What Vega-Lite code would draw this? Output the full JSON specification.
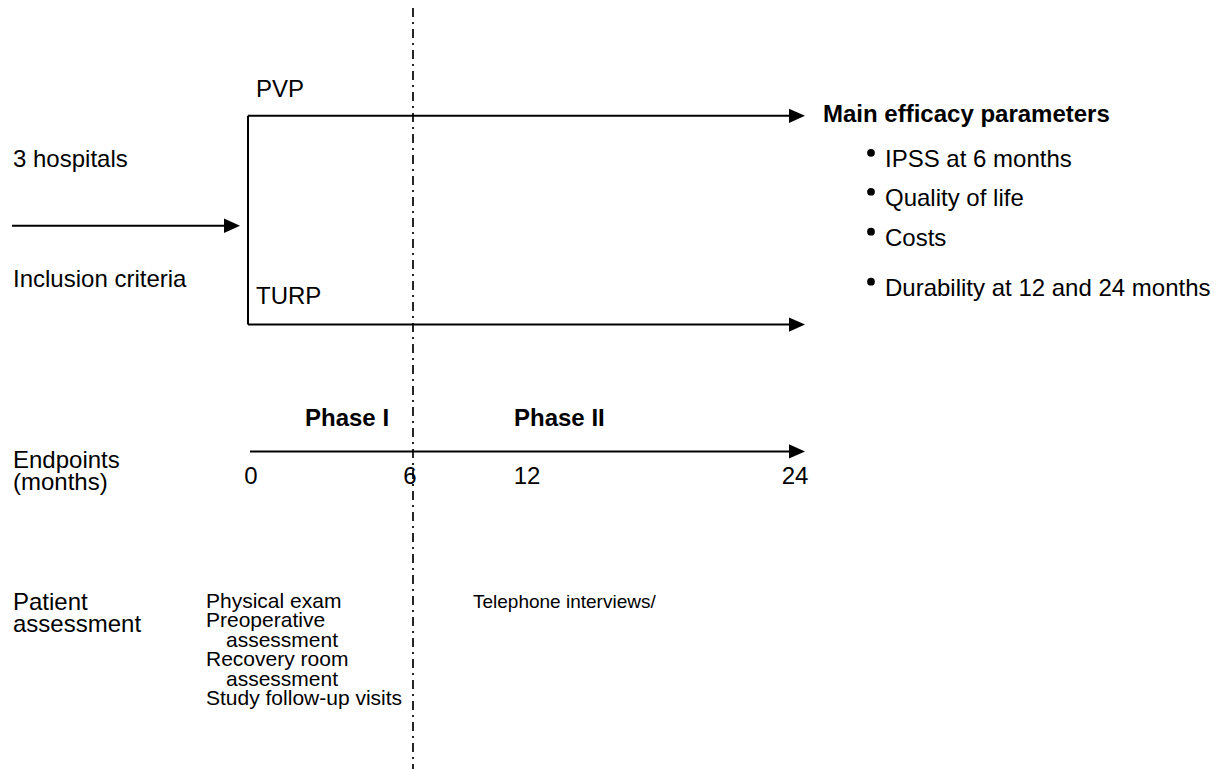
{
  "$schema": "https://vega.github.io/schema/vega-lite/v6.json",
  "width": 1218,
  "height": 770,
  "padding": 0,
  "autosize": {"type": "fit", "contains": "padding"},
  "background": "white",
  "config": {"view": {"stroke": null}, "text": {"font": "Liberation Sans", "color": "black"}},
  "datasets": {
    "segs": [
      {"x": 12, "x2": 228, "y": 226, "y2": 226},
      {"x": 248, "x2": 248, "y": 116, "y2": 325},
      {"x": 248, "x2": 792, "y": 116, "y2": 116},
      {"x": 248, "x2": 792, "y": 325, "y2": 325},
      {"x": 250, "x2": 792, "y": 452, "y2": 452}
    ],
    "divider": [{"x": 413, "y": 8, "y2": 770}],
    "arrows": [
      {"x": 240, "y": 226},
      {"x": 805, "y": 116},
      {"x": 805, "y": 325},
      {"x": 805, "y": 452}
    ],
    "bullets": [
      {"x": 871, "y": 153},
      {"x": 871, "y": 192},
      {"x": 871, "y": 232},
      {"x": 871, "y": 282}
    ],
    "labels": [
      {"text": "PVP", "x": 256, "y": 90, "kind": "normal"},
      {"text": "3 hospitals", "x": 13, "y": 160, "kind": "normal"},
      {"text": "Inclusion criteria", "x": 13, "y": 280, "kind": "normal"},
      {"text": "TURP", "x": 256, "y": 297, "kind": "normal"},
      {"text": "IPSS at 6 months", "x": 885, "y": 160, "kind": "normal"},
      {"text": "Quality of life", "x": 885, "y": 199, "kind": "normal"},
      {"text": "Costs", "x": 885, "y": 239, "kind": "normal"},
      {"text": "Durability at 12 and 24 months", "x": 885, "y": 289, "kind": "normal"},
      {"text": "Main efficacy parameters", "x": 823, "y": 115, "kind": "bold"},
      {"text": "Phase I", "x": 305, "y": 420, "kind": "bold"},
      {"text": "Phase II", "x": 514, "y": 420, "kind": "bold"},
      {"text": "0", "x": 251, "y": 478, "kind": "center"},
      {"text": "6", "x": 410, "y": 478, "kind": "center"},
      {"text": "12", "x": 527, "y": 478, "kind": "center"},
      {"text": "24", "x": 795, "y": 478, "kind": "center"},
      {"text": "Physical exam", "x": 206, "y": 603, "kind": "small"},
      {"text": "Preoperative", "x": 206, "y": 622, "kind": "small"},
      {"text": "assessment", "x": 226, "y": 642, "kind": "small"},
      {"text": "Recovery room", "x": 206, "y": 661, "kind": "small"},
      {"text": "assessment", "x": 226, "y": 681, "kind": "small"},
      {"text": "Study follow-up visits", "x": 206, "y": 700, "kind": "small"},
      {"text": "Telephone interviews/", "x": 473, "y": 603, "kind": "tel"}
    ],
    "blocks": [
      {"text": "Endpoints\n(months)", "x": 13, "y": 469},
      {"text": "Patient\nassessment", "x": 13, "y": 611}
    ]
  },
  "layer": [
    {
      "data": {"name": "segs"},
      "mark": {"type": "rule", "color": "black", "strokeWidth": 2},
      "encoding": {
        "x": {"field": "x", "type": "quantitative", "scale": {"domain": [0, 1218], "nice": false, "zero": false}, "axis": null},
        "x2": {"field": "x2"},
        "y": {"field": "y", "type": "quantitative", "scale": {"domain": [0, 770], "nice": false, "zero": false, "reverse": true}, "axis": null},
        "y2": {"field": "y2"}
      }
    },
    {
      "data": {"name": "divider"},
      "mark": {"type": "rule", "color": "black", "strokeWidth": 1.7, "strokeDash": [9, 5, 2, 5]},
      "encoding": {
        "x": {"field": "x", "type": "quantitative", "scale": {"domain": [0, 1218], "nice": false, "zero": false}, "axis": null},
        "y": {"field": "y", "type": "quantitative", "scale": {"domain": [0, 770], "nice": false, "zero": false, "reverse": true}, "axis": null},
        "y2": {"field": "y2"}
      }
    },
    {
      "data": {"name": "arrows"},
      "mark": {"type": "point", "shape": "M -2 -0.9 L 0 0 L -2 0.9 Z", "filled": true, "color": "black", "opacity": 1, "size": 256, "strokeWidth": 0},
      "encoding": {
        "x": {"field": "x", "type": "quantitative", "scale": {"domain": [0, 1218], "nice": false, "zero": false}, "axis": null},
        "y": {"field": "y", "type": "quantitative", "scale": {"domain": [0, 770], "nice": false, "zero": false, "reverse": true}, "axis": null}
      }
    },
    {
      "data": {"name": "bullets"},
      "mark": {"type": "circle", "color": "black", "opacity": 1, "size": 60},
      "encoding": {
        "x": {"field": "x", "type": "quantitative", "scale": {"domain": [0, 1218], "nice": false, "zero": false}, "axis": null},
        "y": {"field": "y", "type": "quantitative", "scale": {"domain": [0, 770], "nice": false, "zero": false, "reverse": true}, "axis": null}
      }
    },
    {
      "data": {"name": "labels"},
      "transform": [{"filter": "datum.kind === 'normal'"}],
      "mark": {"type": "text", "align": "left", "baseline": "middle", "fontSize": 24},
      "encoding": {
        "x": {"field": "x", "type": "quantitative", "scale": {"domain": [0, 1218], "nice": false, "zero": false}, "axis": null},
        "y": {"field": "y", "type": "quantitative", "scale": {"domain": [0, 770], "nice": false, "zero": false, "reverse": true}, "axis": null},
        "text": {"field": "text"}
      }
    },
    {
      "data": {"name": "labels"},
      "transform": [{"filter": "datum.kind === 'bold'"}],
      "mark": {"type": "text", "align": "left", "baseline": "middle", "fontSize": 24, "fontWeight": "bold"},
      "encoding": {
        "x": {"field": "x", "type": "quantitative", "scale": {"domain": [0, 1218], "nice": false, "zero": false}, "axis": null},
        "y": {"field": "y", "type": "quantitative", "scale": {"domain": [0, 770], "nice": false, "zero": false, "reverse": true}, "axis": null},
        "text": {"field": "text"}
      }
    },
    {
      "data": {"name": "labels"},
      "transform": [{"filter": "datum.kind === 'center'"}],
      "mark": {"type": "text", "align": "center", "baseline": "middle", "fontSize": 24},
      "encoding": {
        "x": {"field": "x", "type": "quantitative", "scale": {"domain": [0, 1218], "nice": false, "zero": false}, "axis": null},
        "y": {"field": "y", "type": "quantitative", "scale": {"domain": [0, 770], "nice": false, "zero": false, "reverse": true}, "axis": null},
        "text": {"field": "text"}
      }
    },
    {
      "data": {"name": "labels"},
      "transform": [{"filter": "datum.kind === 'small'"}],
      "mark": {"type": "text", "align": "left", "baseline": "middle", "fontSize": 21},
      "encoding": {
        "x": {"field": "x", "type": "quantitative", "scale": {"domain": [0, 1218], "nice": false, "zero": false}, "axis": null},
        "y": {"field": "y", "type": "quantitative", "scale": {"domain": [0, 770], "nice": false, "zero": false, "reverse": true}, "axis": null},
        "text": {"field": "text"}
      }
    },
    {
      "data": {"name": "labels"},
      "transform": [{"filter": "datum.kind === 'tel'"}],
      "mark": {"type": "text", "align": "left", "baseline": "middle", "fontSize": 19},
      "encoding": {
        "x": {"field": "x", "type": "quantitative", "scale": {"domain": [0, 1218], "nice": false, "zero": false}, "axis": null},
        "y": {"field": "y", "type": "quantitative", "scale": {"domain": [0, 770], "nice": false, "zero": false, "reverse": true}, "axis": null},
        "text": {"field": "text"}
      }
    },
    {
      "data": {"name": "blocks"},
      "mark": {"type": "text", "align": "left", "baseline": "alphabetic", "fontSize": 24, "lineBreak": "\n", "lineHeight": 22},
      "encoding": {
        "x": {"field": "x", "type": "quantitative", "scale": {"domain": [0, 1218], "nice": false, "zero": false}, "axis": null},
        "y": {"field": "y", "type": "quantitative", "scale": {"domain": [0, 770], "nice": false, "zero": false, "reverse": true}, "axis": null},
        "text": {"field": "text"}
      }
    }
  ]
}
